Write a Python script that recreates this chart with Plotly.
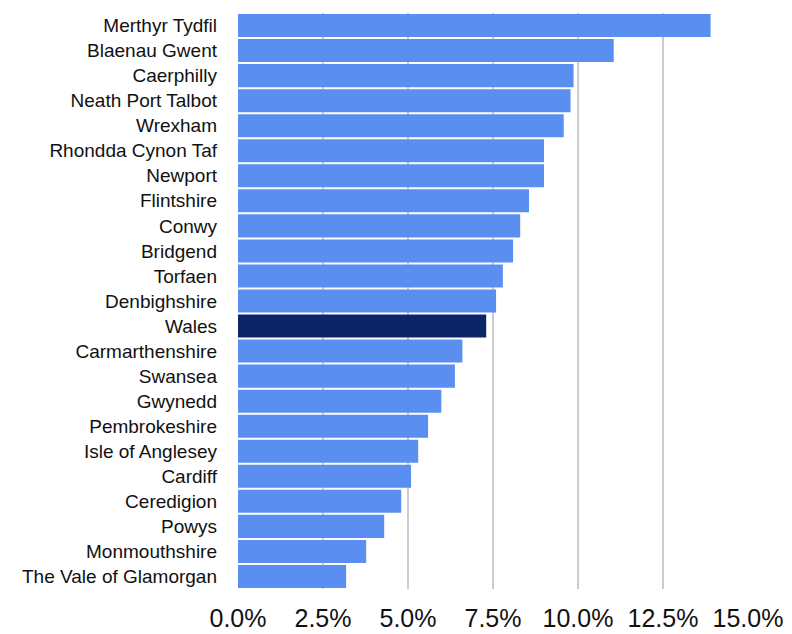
import plotly.graph_objects as go

areas = ["Merthyr Tydfil", "Blaenau Gwent", "Caerphilly", "Neath Port Talbot", "Wrexham",
         "Rhondda Cynon Taf", "Newport", "Flintshire", "Conwy", "Bridgend", "Torfaen",
         "Denbighshire", "Wales", "Carmarthenshire", "Swansea", "Gwynedd", "Pembrokeshire",
         "Isle of Anglesey", "Cardiff", "Ceredigion", "Powys", "Monmouthshire",
         "The Vale of Glamorgan"]
values = [13.9, 11.05, 9.87, 9.78, 9.58, 9.0, 9.0, 8.56, 8.3, 8.09, 7.79, 7.59, 7.3,
          6.6, 6.38, 5.98, 5.59, 5.3, 5.09, 4.8, 4.3, 3.77, 3.18]
tick_vals = [0, 2.5, 5, 7.5, 10, 12.5, 15]
tick_text = ["0.0%", "2.5%", "5.0%", "7.5%", "10.0%", "12.5%", "15.0%"]

colors = ["#0b2566" if a == "Wales" else "#5a8ef0" for a in areas]

fig = go.Figure(go.Bar(
    x=values, y=areas, orientation="h",
    marker=dict(color=colors, line=dict(width=0)),
))
fig.update_layout(
    width=792, height=634,
    margin=dict(l=238, r=44, t=13, b=45),
    paper_bgcolor="white", plot_bgcolor="white",
    bargap=0.08, showlegend=False,
    font=dict(family="Liberation Sans, Arial, sans-serif", color="#111111"),
)
fig.update_xaxes(range=[0, 15], tickvals=tick_vals, ticktext=tick_text,
                 showgrid=True, gridcolor="#cccccc", gridwidth=1.5,
                 zeroline=False, showline=False, tickfont=dict(size=25),
                 ticks="", ticklen=0, ticklabelstandoff=12, automargin=False)
fig.update_yaxes(categoryorder="array", categoryarray=areas, autorange="reversed",
                 tickfont=dict(size=19), ticks="", showline=False,
                 ticklabelstandoff=20, automargin=False)
fig.write_html("out.html")
